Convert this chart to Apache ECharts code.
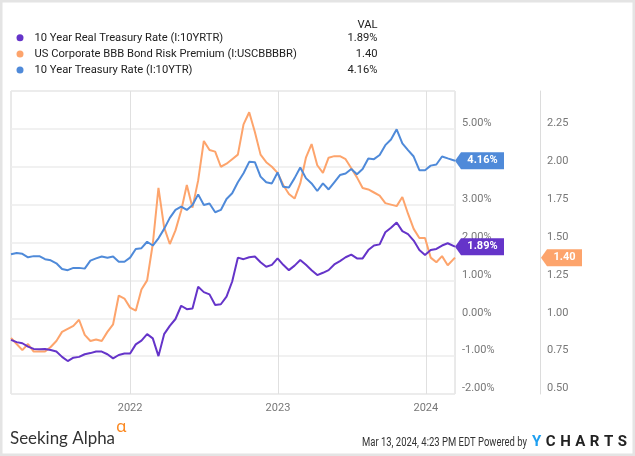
<!DOCTYPE html>
<html><head><meta charset="utf-8">
<script src="https://cdn.jsdelivr.net/npm/echarts@6/dist/echarts.min.js"></script>
<style>html,body{margin:0;padding:0;background:#fff}#c{width:635px;height:456px}</style>
</head><body><div id="c"></div>
<script>
// ---- data (biweekly readings from 2021-03-13, last point 2024-03-13) ----
const startDate = [2021, 2, 13];
const endDate = [2024, 2, 13];
const stepDays = 14;

const seriesNames = [
  '10 Year Real Treasury Rate (I:10YRTR)',
  'US Corporate BBB Bond Risk Premium (I:USCBBBBR)',
  '10 Year Treasury Rate (I:10YTR)'
];

const realRate = [
  -0.57,-0.63,-0.66,-0.75,-0.81,-0.82,-0.81,-0.84,-0.88,-1.02,
  -1.13,-1.04,-1.02,-0.95,-0.92,-0.88,-0.88,-0.95,-1.06,-0.97,
  -0.93,-0.93,-0.69,-0.59,-0.42,-0.53,-1.00,-0.42,-0.20,-0.02,
  0.33,0.24,0.26,0.83,0.69,0.63,0.35,0.37,0.57,0.97,
  1.60,1.56,1.61,1.63,1.48,1.36,1.41,1.58,1.41,1.27,
  1.39,1.54,1.41,1.27,1.14,1.20,1.27,1.42,1.51,1.61,
  1.68,1.58,1.58,1.80,1.92,1.95,2.27,2.39,2.53,2.30,
  2.22,2.05,1.80,1.67,1.80,1.83,1.92,1.98,
  1.89
];

const bbbPremium = [
  0.87,0.83,0.79,0.83,0.78,0.78,0.78,0.81,0.85,0.91,
  0.93,0.95,0.99,0.89,0.85,0.86,0.85,0.91,0.96,1.15,
  1.13,1.07,1.05,1.19,1.25,1.49,1.86,1.60,1.49,1.58,
  1.71,1.88,1.73,1.91,2.17,2.11,2.10,2.00,2.02,2.05,
  2.08,2.28,2.36,2.23,2.08,2.03,2.00,1.96,1.88,1.82,
  1.79,1.89,2.06,2.15,2.01,1.96,2.06,2.07,2.07,2.05,
  1.99,1.93,1.86,1.85,1.83,1.81,1.76,1.75,1.74,1.80,
  1.69,1.59,1.53,1.53,1.40,1.37,1.41,1.35,
  1.40
];

const tenYear = [
  1.69,1.72,1.70,1.61,1.64,1.64,1.56,1.53,1.45,1.30,
  1.27,1.33,1.33,1.31,1.52,1.58,1.63,1.60,1.63,1.49,
  1.49,1.60,1.83,1.85,2.02,1.92,2.11,2.36,2.65,2.86,
  2.95,2.86,2.99,3.27,2.99,3.03,2.80,2.86,3.15,3.30,
  3.59,3.83,4.13,4.12,3.74,3.59,3.56,3.85,3.47,3.45,
  3.70,3.98,3.70,3.56,3.36,3.56,3.40,3.59,3.78,3.82,
  3.94,3.80,3.94,4.22,4.20,4.31,4.57,4.72,4.99,4.62,
  4.44,4.27,3.91,3.91,4.03,4.06,4.27,4.22,
  4.16
];

const yearTicks = [2022, 2023, 2024];
const pctTicks = { min: -2, max: 6, interval: 1 };
const premTicks = { min: 0.5, max: 2.5, interval: 0.25 };

// ---- build ----
const DAY = 86400000;
const t0 = Date.UTC(startDate[0], startDate[1], startDate[2]);
const tEnd = Date.UTC(endDate[0], endDate[1], endDate[2]);
const n = realRate.length;
const dates = realRate.map((_, i) => i === n - 1 ? tEnd : t0 + i * stepDays * DAY);
const yearValues = yearTicks.map(y => Date.UTC(y, 0, 1));

const colors = { purple: '#6534c9', orange: '#fda46c', blue: '#4f8ad9' };
const FONT = 'Roboto, "Noto Sans", sans-serif';
const LEG_SIZE = 11.2;

const ctx = document.createElement('canvas').getContext('2d');
function tw(text, font) { ctx.font = font; return ctx.measureText(text).width; }

const lastReal = realRate[n - 1], lastPrem = bbbPremium[n - 1], lastTen = tenYear[n - 1];
const fmtPct = v => v.toFixed(2) + '%';
const fmtNum = v => v.toFixed(2);

function mkSeries(name, vals, color, yAxisIndex, tagText, w, offsetX) {
  return {
    name: name, type: 'line', yAxisIndex: yAxisIndex,
    data: dates.map((d, i) => [d, vals[i]]),
    showSymbol: false, symbol: 'none',
    lineStyle: { color: color, width: 2 }, itemStyle: { color: color },
    emphasis: { disabled: true },
    markPoint: {
      silent: true, animation: false,
      symbol: 'path://M0,8.5 L6,0 L' + w + ',0 L' + w + ',17 L6,17 Z',
      symbolSize: [w, 17], symbolKeepAspect: false, symbolOffset: [offsetX + w / 2, 0],
      itemStyle: { color: color },
      label: { show: true, position: 'inside', offset: [3, 0], color: '#fff', fontWeight: 'bold', fontSize: 11, fontFamily: FONT, formatter: tagText },
      data: [{ coord: [dates[n - 1], vals[n - 1]] }]
    }
  };
}

// footer text measurements
const saFont = '18px Lato, "Open Sans", sans-serif';
const saScale = 105 / tw('Seeking Alpha', saFont);
const dtFont = '12px ' + FONT;
const dtText = 'Mar 13, 2024, 4:23 PM EDT Powered by';
const dtScale = 165 / tw(dtText, dtFont);
const ycFont = 'bold 15px ' + FONT;
const ycLetters = 'YCHARTS'.split('');
const ycW = ycLetters.map(l => tw(l, ycFont));
const ycSpace = (95 - ycW.reduce((a, b) => a + b, 0)) / (ycLetters.length - 1);
const ycGraphics = [];
let cx = 532;
ycLetters.forEach((l, i) => {
  ycGraphics.push({ type: 'text', x: cx, y: 442, silent: true,
    style: { text: l, font: ycFont, fill: i === 0 ? '#1e9ff0' : '#222', align: 'left', verticalAlign: 'middle' } });
  cx += ycW[i] + ycSpace;
});

const valRows = [fmtPct(lastReal), fmtNum(lastPrem), fmtPct(lastTen)];
const rowY = [38.3, 54.5, 70.2];
const legFont = LEG_SIZE + 'px ' + FONT;

const option = {
  animation: false,
  backgroundColor: '#fff',
  textStyle: { fontFamily: FONT },
  grid: { left: 11, right: 180, top: 91, bottom: 62, show: true, borderColor: '#d4d4d4', borderWidth: 1, outerBoundsMode: 'none', containLabel: false },
  legend: {
    orient: 'vertical', left: 16.5, top: 30.8, padding: 0, itemWidth: 7, itemHeight: 7, itemGap: 2.1, icon: 'circle',
    selectedMode: false,
    data: seriesNames,
    textStyle: { fontSize: LEG_SIZE, lineHeight: 14, color: '#222', fontFamily: FONT, padding: [0, 0, 0, 6] }
  },
  xAxis: {
    type: 'value', min: t0, max: tEnd,
    axisLine: { show: false },
    axisTick: { show: false, customValues: yearValues },
    axisLabel: { customValues: yearValues, formatter: v => String(new Date(v).getUTCFullYear()), color: '#777', fontSize: 11, fontFamily: FONT, margin: 9 },
    splitLine: { show: true, lineStyle: { color: '#e0e0e0', width: 1 } }
  },
  yAxis: [
    {
      type: 'value', position: 'right', min: pctTicks.min, max: pctTicks.max, interval: pctTicks.interval,
      axisLine: { show: false }, axisTick: { show: false },
      axisLabel: { formatter: v => fmtPct(v), color: '#777', fontSize: 11, fontFamily: FONT, margin: 7, verticalAlign: 'bottom', showMaxLabel: false },
      splitLine: { show: true, lineStyle: { color: '#ececec', width: 1.5 } }
    },
    {
      type: 'value', position: 'right', offset: 85, min: premTicks.min, max: premTicks.max, interval: premTicks.interval,
      axisLine: { show: true, lineStyle: { color: '#dcdcdc', width: 1 } }, axisTick: { show: false },
      axisLabel: { formatter: v => fmtNum(v), color: '#777', fontSize: 11, fontFamily: FONT, margin: 7, verticalAlign: 'bottom', showMaxLabel: false },
      splitLine: { show: false }
    }
  ],
  series: [
    mkSeries(seriesNames[1], bbbPremium, colors.orange, 1, fmtNum(lastPrem), 41, 86),
    mkSeries(seriesNames[2], tenYear, colors.blue, 0, fmtPct(lastTen), 49, 0),
    mkSeries(seriesNames[0], realRate, colors.purple, 0, fmtPct(lastReal), 49, 0)
  ],
  graphic: [
    { type: 'rect', silent: true, z: 100, shape: { x: 0, y: 0, width: 635, height: 456 }, style: { fill: 'none', stroke: '#e4e4e4', lineWidth: 5 } },
    { type: 'text', x: 377.5, y: 24.7, silent: true, style: { text: 'VAL', font: legFont, fill: '#222', align: 'right', verticalAlign: 'middle' } },
    ...valRows.map((t, i) => ({ type: 'text', x: 377.5, y: rowY[i], silent: true, style: { text: t, font: legFont, fill: '#222', align: 'right', verticalAlign: 'middle' } })),
    { type: 'text', x: 10, y: 438.5, scaleX: saScale, silent: true, style: { text: 'Seeking Alpha', font: saFont, fill: '#333', align: 'left', verticalAlign: 'middle' } },
    { type: 'text', x: 116, y: 427, silent: true, style: { text: 'α', font: '17px "Noto Sans", sans-serif', fill: '#fb8a24', align: 'left', verticalAlign: 'middle' } },
    { type: 'text', x: 362, y: 442.5, scaleX: dtScale, silent: true, style: { text: dtText, font: dtFont, fill: '#333', align: 'left', verticalAlign: 'middle' } },
    ...ycGraphics
  ]
};

const chart = echarts.init(document.getElementById('c'));
chart.setOption(option);
</script>
</body></html>
